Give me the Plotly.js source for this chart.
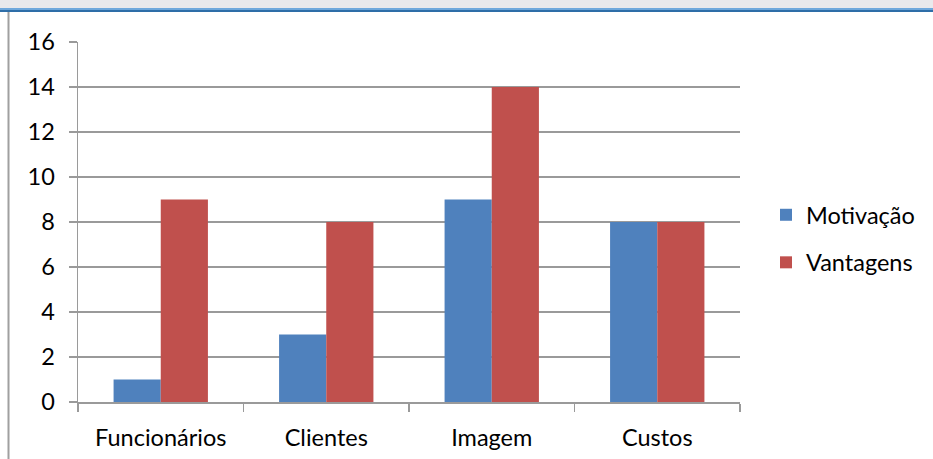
<!DOCTYPE html>
<html><head><meta charset="utf-8">
<script src="https://cdn.plot.ly/plotly-3.0.1.min.js"></script>
<style>html,body{margin:0;padding:0;background:#fff;}#chart{width:933px;height:459px;}</style>
</head><body><div id="chart"></div>
<script>
const categories = ["Funcionários", "Clientes", "Imagem", "Custos"];
const motivacao = [1, 3, 9, 8];
const vantagens = [9, 8, 14, 8];
const seriesNames = ["Motivação", "Vantagens"];
const yTicks = [0, 2, 4, 6, 8, 10, 12, 14, 16];

const W = 933, H = 459, L = 78, R = 193, T = 42, B = 57;
const pw = W - L - R, ph = H - T - B;
const px = x => (x - L) / pw;
const py = y => (H - B - y) / ph;

const font = "Lato, 'Open Sans', sans-serif";
const fs = 23.5;
const data = [
  {type: "bar", name: seriesNames[0], x: categories, y: motivacao, marker: {color: "#4F81BD"}, legendgroup: "a"},
  {type: "bar", name: seriesNames[1], x: categories, y: vantagens, marker: {color: "#C0504D"}, legendgroup: "b"}
];
const layout = {
  width: W, height: H,
  margin: {l: L, r: R, t: T, b: B, pad: 0, autoexpand: false},
  paper_bgcolor: "#fff", plot_bgcolor: "#fff",
  barmode: "group", bargap: 0.43, bargroupgap: 0,
  font: {family: font, size: fs, color: "#000"},
  xaxis: {
    type: "category", showgrid: false, showline: true, linecolor: "#9a9a9a", linewidth: 1.5,
    ticks: "outside", tickson: "boundaries", ticklen: 8, tickcolor: "#9a9a9a", tickwidth: 1.5,
    tickfont: {family: font, size: fs}, zeroline: false, ticklabelstandoff: 14, automargin: false
  },
  yaxis: {
    range: [0, 16], tickvals: yTicks, showgrid: true, gridcolor: "#9a9a9a", gridwidth: 1.5,
    showline: true, linecolor: "#9a9a9a", linewidth: 1.5, ticks: "outside", ticklen: 8,
    tickcolor: "#9a9a9a", tickwidth: 1.5, zeroline: false, tickfont: {family: font, size: fs},
    ticklabelstandoff: 9, automargin: false
  },
  legend: {
    x: px(766), y: py(239), xanchor: "left", yanchor: "middle",
    font: {family: font, size: fs}, traceorder: "grouped", tracegroupgap: 14,
    bgcolor: "rgba(0,0,0,0)", itemwidth: 30
  },
  shapes: [
    {type: "rect", xref: "paper", yref: "paper", x0: px(0), x1: px(W), y0: py(0), y1: py(9), fillcolor: "#e9e9ec", line: {width: 0}, layer: "below"},
    {type: "rect", xref: "paper", yref: "paper", x0: px(0), x1: px(W), y0: py(8), y1: py(10), fillcolor: "#6fa8dc", line: {width: 0}},
    {type: "rect", xref: "paper", yref: "paper", x0: px(0), x1: px(W), y0: py(10), y1: py(12), fillcolor: "#2e6ea8", line: {width: 0}},
    {type: "line", xref: "paper", yref: "paper", x0: px(8.5), x1: px(8.5), y0: py(12), y1: py(H), line: {color: "#a0a0a0", width: 2}}
  ]
};
Plotly.newPlot("chart", data, layout, {displayModeBar: false, staticPlot: true});
</script></body></html>
